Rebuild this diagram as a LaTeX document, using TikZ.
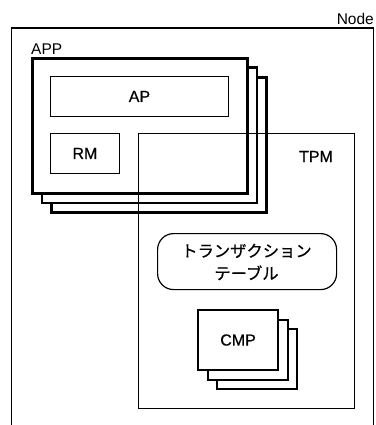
\documentclass[tikz,border=0pt]{standalone}
\usepackage{fontspec}
\setmainfont{Liberation Sans}
\newfontfamily\boldishfont[FakeBold=0.6]{Liberation Sans}
\newfontfamily\jpfont[FakeBold=0.5]{Noto Sans CJK JP}
\begin{document}
\begin{tikzpicture}[x=1pt,y=-1pt,
  lbl/.style={inner sep=0pt,font=\fontsize{15.5}{18}\selectfont},
  blbl/.style={inner sep=0pt,font=\boldishfont\fontsize{16}{18}\selectfont},
  thinbox/.style={draw,line width=0.9pt,inner sep=0pt,anchor=north west},
  appbox/.style={draw,line width=2.6pt,fill=white,inner sep=0pt,anchor=north west,minimum width=215pt,minimum height=135pt},
  cmpbox/.style={draw,line width=2.1pt,fill=white,inner sep=0pt,anchor=north west,minimum width=80pt,minimum height=60pt},
  tablebox/.style={draw,line width=1.2pt,rounded corners=16pt,inner sep=0pt,anchor=north west,minimum width=179pt,minimum height=56pt}]
\useasboundingbox (0,0) rectangle (375,425);
% Node frame (open at the bottom)
\draw[line width=0.9pt] (11,425) -- (11,28);
\draw[line width=0.9pt] (373,28) -- (373,425);
\draw[line width=2pt] (10.5,28) -- (373.5,28);
\node[lbl,anchor=base east] (nodelbl) at (374,25) {Node};
% APP stack
\node[lbl,anchor=base west] (applbl) at (31,55) {APP};
\node[appbox] (app3) at (50,76) {};
\node[appbox] (app2) at (40.5,66.5) {};
\node[appbox] (app1) at (31,57) {};
\node[thinbox,minimum width=178pt,minimum height=40pt] (ap) at (50,76) {};
\node[blbl] (aplbl) at (ap.center) {AP};
\node[thinbox,minimum width=69pt,minimum height=40pt] (rm) at (50,133) {};
\node[blbl] (rmlbl) at (rm.center) {RM};
% TPM
\node[thinbox,minimum width=216pt,minimum height=275pt] (tpm) at (138,133) {};
\node[blbl,anchor=base] (tpmlbl) at (316,162) {TPM};
% transaction table
\node[tablebox] (tbl) at (157,233) {};
\node[align=center,inner sep=0pt,font={\jpfont\fontsize{16.3}{22.5}\selectfont}] (tbllbl) at (246.5,262) {トランザクション\\テーブル};
% CMP stack
\node[cmpbox] (cmp3) at (216,328) {};
\node[cmpbox] (cmp2) at (206.5,318.5) {};
\node[cmpbox] (cmp1) at (197,309) {};
\node[blbl] (cmplbl) at (cmp1.center) {CMP};
\end{tikzpicture}
\end{document}
